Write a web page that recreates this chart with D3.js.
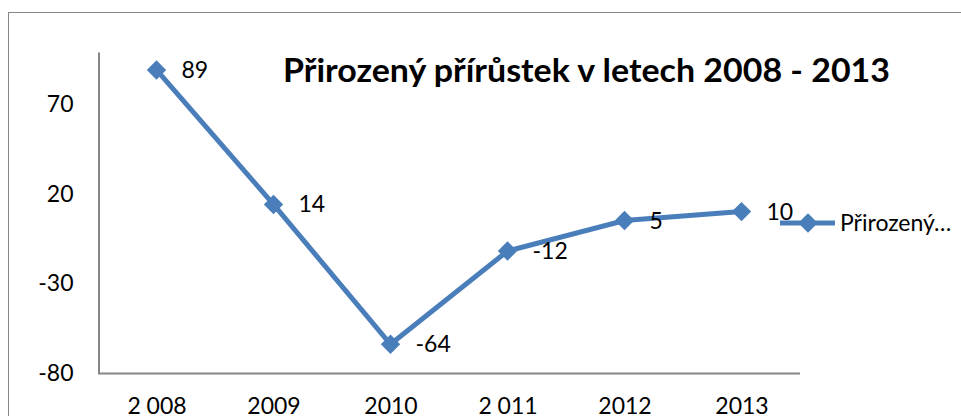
<!DOCTYPE html>
<html>
<head>
<meta charset="utf-8">
<script src="https://cdn.jsdelivr.net/npm/d3@7"></script>
<style>
  body { margin: 0; background: #fff; }
  text { font-family: Lato, "Open Sans", sans-serif; fill: #000; }
</style>
</head>
<body>
<div id="chart"></div>
<script>
// data
const years = ['2 008', '2009', '2010', '2 011', '2012', '2013'];
const values = [89, 14, -64, -12, 5, 10];
const yTicks = [-80, -30, 20, 70];
const title = 'Přirozený přírůstek v letech 2008 - 2013';
const seriesName = 'Přirozený…';

const width = 961, height = 416;
const blue = '#4a7ebb';
const fs = 23;

const svg = d3.select('#chart')
    .append('svg')
        .attr('width', width)
        .attr('height', height);

// outer chart border (right/bottom fall outside the picture)
svg.append('rect')
    .attr('x', 8.5).attr('y', 12.5)
    .attr('width', 1000).attr('height', 600)
    .attr('fill', 'none')
    .attr('stroke', '#868686');

const x = d3.scalePoint().domain(years).range([98, 800]).padding(0.5);
const y = d3.scaleLinear().domain([-80, 99]).range([373, 52]);

// y axis
const yAxis = svg.append('g')
    .attr('transform', 'translate(98.5,0)')
    .call(d3.axisLeft(y).tickValues(yTicks).tickFormat(d => String(d))
        .tickSize(0).tickPadding(25));
yAxis.select('.domain').attr('stroke', '#868686').attr('stroke-width', 2);
yAxis.selectAll('text').attr('font-size', fs).attr('font-family', 'Lato');

// x axis
const xAxis = svg.append('g')
    .attr('transform', 'translate(0,373.5)')
    .call(d3.axisBottom(x).tickSize(0).tickPadding(24));
xAxis.select('.domain').attr('stroke', '#868686').attr('stroke-width', 2)
    .attr('d', 'M98,0H800');
xAxis.selectAll('text').attr('font-size', fs).attr('font-family', 'Lato');

// line
const line = d3.line()
    .x((d, i) => x(years[i]))
    .y(d => y(d));

svg.append('path')
    .datum(values)
    .attr('fill', 'none')
    .attr('stroke', blue)
    .attr('stroke-width', 5)
    .attr('d', line);

const diamond = d3.symbol().type(d3.symbolDiamond2).size(240);

svg.selectAll('.marker')
    .data(values)
    .enter()
    .append('path')
        .attr('class', 'marker')
        .attr('transform', (d, i) => `translate(${x(years[i])},${y(d)})`)
        .attr('d', diamond)
        .attr('fill', blue);

// data labels
svg.selectAll('.label')
    .data(values)
    .enter()
    .append('text')
        .attr('class', 'label')
        .attr('x', (d, i) => x(years[i]) + 25)
        .attr('y', d => y(d))
        .attr('dy', '0.35em')
        .attr('font-size', fs)
        .text(d => d);

// title
svg.append('text')
    .attr('x', 283)
    .attr('y', 82)
    .attr('font-size', 32)
    .attr('font-weight', 'bold')
    .attr('textLength', 607)
    .attr('lengthAdjust', 'spacingAndGlyphs')
    .text(title);

// legend
const legend = svg.append('g').attr('transform', 'translate(808,223)');
legend.append('line')
    .attr('x1', -28).attr('x2', 27)
    .attr('stroke', blue).attr('stroke-width', 5);
legend.append('path').attr('d', diamond).attr('fill', blue);
legend.append('text')
    .attr('x', 32)
    .attr('dy', '0.35em')
    .attr('font-size', fs)
    .text(seriesName);
</script>
</body>
</html>
